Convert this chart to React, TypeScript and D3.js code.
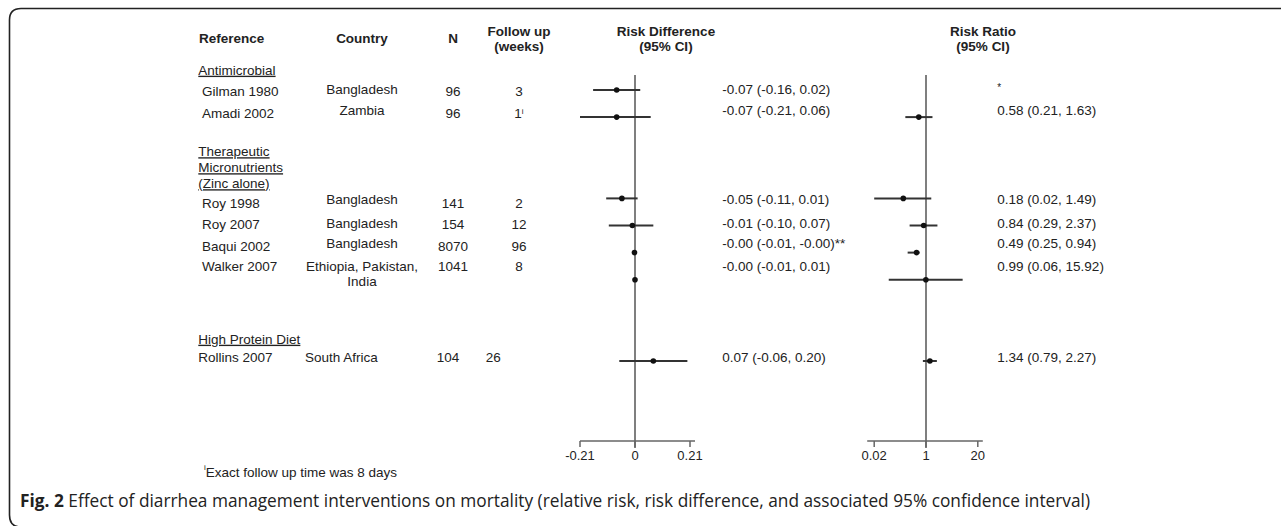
import React from "react";
import * as d3 from "d3";

// ---------- data ----------
const GROUP_LABELS: string[][] = [
  ["Antimicrobial"],
  ["Therapeutic", "Micronutrients", "(Zinc alone)"],
  ["High Protein Diet"],
];
const STUDY_GROUP = [0, 0, 1, 1, 1, 1, 2];
const STUDIES = ["Gilman 1980", "Amadi 2002", "Roy 1998", "Roy 2007", "Baqui 2002", "Walker 2007", "Rollins 2007"];
const COUNTRIES: string[][] = [
  ["Bangladesh"], ["Zambia"], ["Bangladesh"], ["Bangladesh"], ["Bangladesh"],
  ["Ethiopia, Pakistan,", "India"], ["South Africa"],
];
const N_VALUES = ["96", "96", "141", "154", "8070", "1041", "104"];
const FOLLOW_UP = ["3", "1", "2", "12", "96", "8", "26"];
const FOLLOW_UP_NOTE = ["", "i", "", "", "", "", ""];
const ROW_SLOT = [0, 1, 4, 5, 6, 7, 10];

const RD_EST = [-0.07, -0.07, -0.05, -0.01, -0.002, 0.0, 0.07];
const RD_LO = [-0.16, -0.21, -0.11, -0.1, -0.005, -0.004, -0.06];
const RD_HI = [0.02, 0.06, 0.01, 0.07, 0.0, 0.004, 0.2];
const RD_LABELS = [
  "-0.07 (-0.16, 0.02)", "-0.07 (-0.21, 0.06)", "-0.05 (-0.11, 0.01)", "-0.01 (-0.10, 0.07)",
  "-0.00 (-0.01, -0.00)**", "-0.00 (-0.01, 0.01)", "0.07 (-0.06, 0.20)",
];
const RR_EST: (number | null)[] = [null, 0.58, 0.18, 0.84, 0.49, 0.99, 1.34];
const RR_LO: (number | null)[] = [null, 0.21, 0.02, 0.29, 0.25, 0.06, 0.79];
const RR_HI: (number | null)[] = [null, 1.63, 1.49, 2.37, 0.62, 15.92, 2.27];
const RR_LABELS = [
  "*", "0.58 (0.21, 1.63)", "0.18 (0.02, 1.49)", "0.84 (0.29, 2.37)",
  "0.49 (0.25, 0.94)", "0.99 (0.06, 15.92)", "1.34 (0.79, 2.27)",
];
const RD_TICKS = [-0.21, 0, 0.21];
const RD_TICK_LABELS = ["-0.21", "0", "0.21"];
const RR_TICKS = [0.02, 1, 50];
const RR_TICK_LABELS = ["0.02", "1", "20"];

const HEADERS = ["Reference", "Country", "N"];
const FOOTNOTE = "Exact follow up time was 8 days";
const CAPTION_BOLD = "Fig. 2";
const CAPTION = " Effect of diarrhea management interventions on mortality (relative risk, risk difference, and associated 95% confidence interval)";

// ---------- layout ----------
const W = 1281, H = 526;
const FONT = "'Liberation Sans', Arial, Helvetica, sans-serif";
const FS = 13.5;
const TXT = "#222";
const LINE = "#333";
const GROUP_Y = [70, 151.5, 339];
const GROUP_LINE_H = 16;
const TABLE_Y = [91, 113, 203, 224.5, 246, 266, 357];
const SIDE_Y = [89, 110, 199, 223, 243, 266, 357];
const COL_REF = 202, COL_COUNTRY = 362, COL_N = 453, COL_FU = 519;
const AXIS_Y = 441;
const VLINE_TOP = 75;

export default function App() {
  const y = d3.scaleLinear().domain([0, 10]).range([90, 361]);
  const xRD = d3.scaleLinear().domain([-0.21, 0.21]).range([580, 690]);
  const xRR = d3.scaleLog().domain([0.02, 50]).range([874.2, 977.8]);

  const txt = (x: number, yy: number, s: React.ReactNode, anchor = "middle", extra: any = {}) => (
    <text x={x} y={yy} dy="0.35em" textAnchor={anchor} fontFamily={FONT} fontSize={FS} fill={TXT} {...extra}>
      {s}
    </text>
  );

  const lastRow = STUDIES.length - 1;

  return (
    <svg width={W} height={H} style={{ position: "absolute", left: 0, top: 0, background: "#fff" }}>
      <rect width={W} height={H} fill="#fff" />
      {/* frame */}
      <path d="M1300,8.5 H21 Q9.5,8.5 9.5,20 V515 Q9.5,527 21,527 H1300" fill="none" stroke="#222" strokeWidth={1.6} />

      {/* headers */}
      {txt(231.7, 38.3, HEADERS[0], "middle", { fontWeight: "bold" })}
      {txt(COL_COUNTRY, 38.3, HEADERS[1], "middle", { fontWeight: "bold" })}
      {txt(COL_N, 38.3, HEADERS[2], "middle", { fontWeight: "bold" })}
      {txt(COL_FU, 31.5, "Follow up", "middle", { fontWeight: "bold" })}
      {txt(COL_FU, 46.5, "(weeks)", "middle", { fontWeight: "bold" })}
      {txt(666, 31.5, "Risk Difference", "middle", { fontWeight: "bold" })}
      {txt(666, 46.5, "(95% CI)", "middle", { fontWeight: "bold" })}
      {txt(983, 31.5, "Risk Ratio", "middle", { fontWeight: "bold" })}
      {txt(983, 46.5, "(95% CI)", "middle", { fontWeight: "bold" })}

      {/* group labels */}
      {GROUP_LABELS.map((lines, g) =>
        lines.map((l, i) => (
          <g key={`g${g}-${i}`}>
            {txt(198.3, GROUP_Y[g] + i * GROUP_LINE_H, l, "start", { textDecoration: "underline" })}
          </g>
        ))
      )}

      {/* table rows */}
      {STUDIES.map((s, i) => {
        const isLast = i === lastRow;
        return (
          <g key={s}>
            {txt(isLast ? 198.3 : COL_REF, TABLE_Y[i], s, "start")}
            {COUNTRIES[i].map((c, k) => (
              <g key={k}>{txt(isLast ? 305 : COL_COUNTRY, (isLast ? TABLE_Y[i] : SIDE_Y[i]) + k * 15.7, c, isLast ? "start" : "middle")}</g>
            ))}
            {txt(isLast ? 436.7 : COL_N, TABLE_Y[i], N_VALUES[i], isLast ? "start" : "middle")}
            {txt(isLast ? 485.7 : COL_FU, TABLE_Y[i],
              <>
                {FOLLOW_UP[i]}
                {FOLLOW_UP_NOTE[i] && (
                  <tspan fontSize={8} dy="-0.45em">{FOLLOW_UP_NOTE[i]}</tspan>
                )}
              </>, isLast ? "start" : "middle")}
            {txt(722.3, SIDE_Y[i], RD_LABELS[i], "start")}
            {txt(997.3, SIDE_Y[i], RR_LABELS[i], "start", i === 0 ? { fontSize: 10, dy: "0.15em" } : {})}
          </g>
        );
      })}

      {/* RD panel */}
      <line x1={xRD(0)} x2={xRD(0)} y1={VLINE_TOP} y2={AXIS_Y + 7} stroke="#555" strokeWidth={1.5} />
      <line x1={xRD.range()[0]} x2={xRD.range()[1] + 5} y1={AXIS_Y} y2={AXIS_Y} stroke="#666" strokeWidth={1.5} />
      {RD_TICKS.map((t, i) => (
        <g key={`rdt${i}`}>
          <line x1={xRD(t)} x2={xRD(t)} y1={AXIS_Y} y2={AXIS_Y + 6} stroke="#666" strokeWidth={1.5} />
          {txt(xRD(t), 455, RD_TICK_LABELS[i], "middle", { fontSize: 13 })}
        </g>
      ))}
      {STUDIES.map((s, i) => (
        <g key={`rd${i}`}>
          <line x1={xRD(RD_LO[i])} x2={xRD(RD_HI[i])} y1={y(ROW_SLOT[i])} y2={y(ROW_SLOT[i])} stroke={LINE} strokeWidth={2} />
          <circle cx={xRD(RD_EST[i])} cy={y(ROW_SLOT[i])} r={2.8} fill="#111" />
        </g>
      ))}

      {/* RR panel */}
      <line x1={xRR(1)} x2={xRR(1)} y1={VLINE_TOP} y2={AXIS_Y + 7} stroke="#555" strokeWidth={1.5} />
      <line x1={xRR.range()[0] - 7} x2={xRR.range()[1] + 5} y1={AXIS_Y} y2={AXIS_Y} stroke="#666" strokeWidth={1.5} />
      {RR_TICKS.map((t, i) => (
        <g key={`rrt${i}`}>
          <line x1={xRR(t)} x2={xRR(t)} y1={AXIS_Y} y2={AXIS_Y + 6} stroke="#666" strokeWidth={1.5} />
          {txt(xRR(t), 455, RR_TICK_LABELS[i], "middle", { fontSize: 13 })}
        </g>
      ))}
      {STUDIES.map((s, i) =>
        RR_EST[i] == null ? null : (
          <g key={`rr${i}`}>
            <line x1={xRR(RR_LO[i] as number)} x2={xRR(RR_HI[i] as number)} y1={y(ROW_SLOT[i])} y2={y(ROW_SLOT[i])} stroke={LINE} strokeWidth={2} />
            <circle cx={xRR(RR_EST[i] as number)} cy={y(ROW_SLOT[i])} r={2.8} fill="#111" />
          </g>
        )
      )}

      {/* footnote */}
      <text x={204} y={474} dy="0.35em" fontFamily={FONT} fontSize={13.5} fill={TXT}>
        <tspan fontSize={8} dy="-0.5em">i</tspan>
        <tspan dy="0.5em">{FOOTNOTE}</tspan>
      </text>

      {/* caption */}
      <text x={20} y={507} fontFamily="'Open Sans', 'Noto Sans', sans-serif" fontSize={17.3} fill="#222">
        <tspan fontWeight="bold">{CAPTION_BOLD}</tspan>
        <tspan>{CAPTION}</tspan>
      </text>
    </svg>
  );
}
